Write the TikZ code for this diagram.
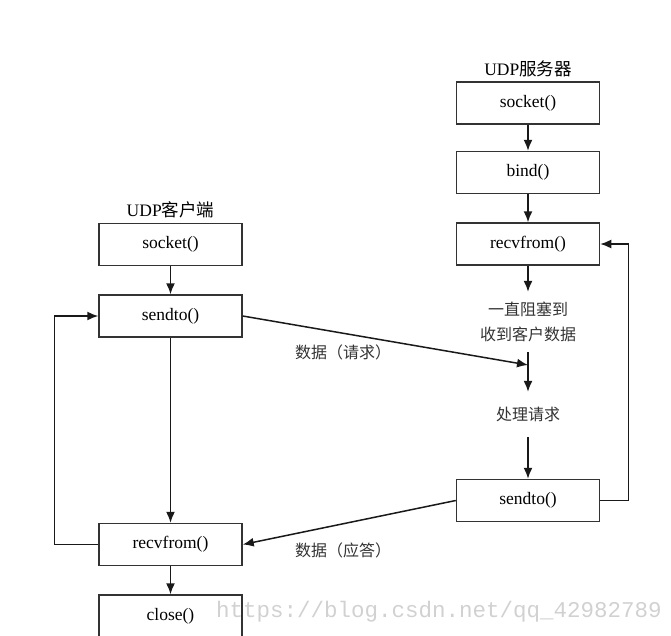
\documentclass[tikz,border=0pt]{standalone}
\usepackage{fontspec}
\setmainfont{Liberation Serif}
\newfontfamily\cjk{Noto Sans CJK SC}
\newfontfamily\wmfont{Liberation Mono}
\usetikzlibrary{arrows.meta}
\begin{document}
\begin{tikzpicture}[x=1pt,y=-1pt,
  box/.style={draw=black!80, line width=1.5pt, minimum width=143pt, minimum height=42pt, inner sep=0pt, font=\fontsize{17.5}{20}\selectfont},
  ttl/.style={inner sep=0pt, font=\fontsize{17.5}{20}\selectfont},
  lbl/.style={inner sep=0pt, font=\cjk\fontsize{16}{25}\selectfont, text=black!80, align=center},
  arr/.style={-{Latex[length=11pt,width=9pt]}, line width=1.5pt, draw=black!90},
  ln/.style={line width=1.5pt, draw=black!90}]
\useasboundingbox (0,0) rectangle (671,635);
% server
\node[ttl] (stitle) at (528,69) {UDP{\cjk 服务器}};
\node[box] (ssock) at (528,103) {socket()};
\node[box] (sbind) at (528,172.5) {bind()};
\node[box] (srecv) at (528,244) {recvfrom()};
\node[lbl, minimum height=60pt] (sblock) at (528,322) {一直阻塞到\\收到客户数据};
\node[lbl, minimum height=45pt] (sproc) at (528,414.5) {处理请求};
\node[box] (ssend) at (528,500.5) {sendto()};
\coordinate (rx) at (528,365);
% client
\node[ttl] (ctitle) at (170.5,210) {UDP{\cjk 客户端}};
\node[box] (csock) at (170.5,244.5) {socket()};
\node[box] (csend) at (170.5,316) {sendto()};
\node[box] (crecv) at (170.5,544.5) {recvfrom()};
\node[box] (cclose) at (170.5,616) {close()};
% server arrows
\draw[arr] (ssock) -- (sbind);
\draw[arr] (sbind) -- (srecv);
\draw[arr] (srecv) -- (sblock);
\draw[arr] (sblock) -- (sproc);
\draw[arr] (sproc) -- (ssend);
\draw[arr] (ssend.east) -- ++(28,0) |- (srecv.east);
% client arrows
\draw[arr] (csock) -- (csend);
\draw[arr] (csend) -- (crecv);
\draw[arr] (crecv) -- (cclose);
\draw[arr] (crecv.west) -- ++(-44,0) |- (csend.west);
% messages
\draw[arr] (csend.east) -- (rx);
\draw[arr] (ssend.west) -- (crecv.east);
\node[lbl] (req) at (343,352) {数据（请求）};
\node[lbl] (resp) at (343,550) {数据（应答）};
% watermark
\node[anchor=west, inner sep=0pt, text=black!18, font=\wmfont\fontsize{22.5}{24}\selectfont] (wm) at (216,612) {https://blog.csdn.net/qq\_42982789};
\end{tikzpicture}
\end{document}
